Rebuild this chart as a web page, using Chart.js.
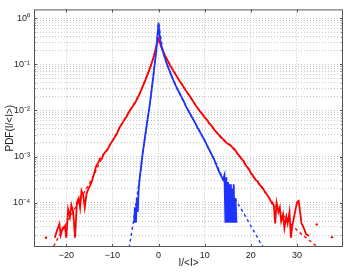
<!DOCTYPE html>
<html><head><meta charset="utf-8">
<script src="https://cdn.jsdelivr.net/npm/chart.js@4"></script>
<style>html,body{margin:0;padding:0;background:#fff;}#wrap{width:347px;height:273px;}</style>
</head><body><div id="wrap"><canvas id="c" width="347" height="273"></canvas></div>
<script>
// ---- data ----
const redX = [-22.5,-22.0,-21.5,-21.2,-20.8,-20.3,-20.0,-19.6,-19.2,-18.9,-18.5,-18.1,-17.7,-17.3,-17.0,-16.7,-16.3,-16.0,-15.6,-15.2,-14.9,-14.5,-14.0,-13.5,-13.0,-12.7,-12.3,-12.0,-11.5,-11.0,-10.5,-10.0,-9.5,-9.0,-8.5,-8.0,-7.5,-7.0,-6.5,-6.0,-5.5,-5.0,-4.5,-4.0,-3.5,-3.0,-2.5,-2.0,-1.5,-1.0,-0.5,-0.2,0,0.2,0.5,1.0,1.5,2.0,2.5,3.0,3.5,4.0,4.5,5.0,5.5,6.0,6.5,7.0,7.5,8.0,8.5,9.0,9.5,10,10.5,11,11.5,12,12.5,13,13.5,14,14.5,15,15.5,16,16.5,17,17.5,18,18.5,19,19.5,20,20.5,21,21.5,22,22.5,23,23.5,24,24.5,25.0,25.3,25.6,26.0,26.3,26.6,27.0,27.3,27.7,28.0,28.4,28.7,29.0,29.4,29.8,30.1,30.4,30.7,31.0,31.3,31.7,32.0,32.6];
const redY = [1.74e-5,2.51e-5,3.47e-5,2.0e-5,2.82e-5,3.16e-5,1.74e-5,7.24e-5,5.01e-5,8.91e-5,6.31e-5,1.74e-5,1.0e-4,1.26e-4,7.94e-5,1.82e-4,1.41e-4,7.94e-5,1.58e-4,2.0e-4,2.29e-4,2.82e-4,4.17e-4,6.31e-4,7.59e-4,9.12e-4,8.91e-4,1.12e-3,1.26e-3,1.445e-3,1.82e-3,2.19e-3,2.63e-3,3.16e-3,4.17e-3,5.01e-3,6.03e-3,7.24e-3,8.91e-3,1.07e-2,1.26e-2,1.51e-2,1.9e-2,2.4e-2,3.16e-2,4.17e-2,5.62e-2,7.59e-2,0.105,0.151,0.24,0.316,0.355,0.316,0.251,0.19,0.148,0.12,9.55e-2,7.94e-2,6.46e-2,5.37e-2,4.47e-2,3.8e-2,3.16e-2,2.63e-2,2.24e-2,1.9e-2,1.58e-2,1.32e-2,1.12e-2,9.55e-3,8.32e-3,7.08e-3,6.31e-3,5.25e-3,4.68e-3,3.98e-3,3.39e-3,3.02e-3,2.63e-3,2.4e-3,2.09e-3,1.9e-3,1.8e-3,1.58e-3,1.45e-3,1.2e-3,1.05e-3,8.91e-4,7.9e-4,6.31e-4,5.6e-4,4.47e-4,3.8e-4,3.16e-4,2.9e-4,2.4e-4,2.15e-4,1.78e-4,1.51e-4,1.26e-4,1.0e-4,8.91e-5,3.55e-5,1.0e-4,6.31e-5,7.94e-5,3.98e-5,5.62e-5,2.82e-5,5.01e-5,3.55e-5,6.31e-5,1.74e-5,3.16e-5,5.01e-5,7.94e-5,1.05e-4,1.1e-4,6.31e-5,3.55e-5,3.16e-5,2.51e-5,2.09e-5,1.9e-5];
const redDotX = [-24.4, 34.3, 37.6];
const redDotY = [1.74e-5, 3.4e-5, 1.8e-5];

const blueX = [-5.3,-5.1,-4.9,-4.7,-4.5,-4.3,-4.0,-3.5,-3.0,-2.5,-2.0,-1.5,-1.0,-0.5,-0.2,0,0.2,0.5,1.0,1.5,2.0,2.5,3.0,3.5,4.0,4.5,5.0,5.5,6.0,6.5,7.0,7.5,8.0,8.5,9.0,9.5,10,10.5,11,11.5,12,12.5,13,13.5,14.0,14.3,14.5,14.7,14.9,15.1,15.3,15.5,15.7,15.9,16.1,16.3,16.5,16.7,16.9];
const blueY = [3.7e-5,7.94e-5,3.7e-5,1.26e-4,6.31e-5,2.0e-4,3.98e-4,1.05e-3,2.4e-3,5.25e-3,1.12e-2,2.75e-2,7.08e-2,0.19,0.447,0.794,0.447,0.282,0.182,0.126,9.12e-2,6.76e-2,5.01e-2,3.89e-2,3.02e-2,2.45e-2,1.95e-2,1.55e-2,1.2e-2,9.77e-3,7.94e-3,6.46e-3,5.25e-3,4.17e-3,3.39e-3,2.75e-3,2.24e-3,1.78e-3,1.41e-3,1.12e-3,8.91e-4,6.76e-4,5.01e-4,3.98e-4,3.16e-4,3.98e-4,3.7e-5,3.55e-4,3.7e-5,2.82e-4,3.7e-5,2.51e-4,3.7e-5,2.0e-4,3.7e-5,2.51e-4,3.7e-5,1.26e-4,3.7e-5];

const blueFitX = [-6.6,-6.0,-5.5,-5.0,-4.5,-4.0,-3.0,-2.0,-1.0,0,1,2,4,6,8,10,12,14,15,16,17,18,19,20,21,22,23.3];
const blueFitY = [7.94e-6,1.78e-5,3.55e-5,7.94e-5,1.78e-4,3.98e-4,2.4e-3,1.12e-2,7.08e-2,0.794,0.182,9.12e-2,3.02e-2,1.2e-2,5.25e-3,2.24e-3,8.91e-4,3.31e-4,2.24e-4,1.51e-4,1.05e-4,7.08e-5,4.79e-5,3.16e-5,2.14e-5,1.41e-5,8.91e-6];

const redFitX = [-23.4,-22.5,-22,-21,-20,-19,-18,-17,-16,-15,-14,-13,-12,-10,-8,-6,-4,-2,-1,0,1,2,4,6,8,10,12,14,16,18,20,22,24,25,26,27,28,29,30,31,32,33,34,35.4];
const redFitY = [8.91e-6,1.26e-5,1.58e-5,2.4e-5,3.55e-5,5.25e-5,7.94e-5,1.17e-4,1.74e-4,2.63e-4,3.98e-4,6.61e-4,1.05e-3,2.19e-3,5.01e-3,1.07e-2,2.4e-2,7.59e-2,0.151,0.355,0.19,0.12,5.37e-2,2.63e-2,1.32e-2,7.08e-3,3.98e-3,2.4e-3,1.58e-3,8.91e-4,4.47e-4,2.4e-4,1.26e-4,9.33e-5,7.08e-5,5.37e-5,4.17e-5,3.24e-5,2.57e-5,2.09e-5,1.74e-5,1.45e-5,1.2e-5,9.33e-6];

const xTicks = [-20, -10, 0, 10, 20, 30];
const yDecades = [1e-5, 1e-4, 1e-3, 1e-2, 1e-1, 1];
const yDecadeLabels = ['10\u207B\u2075','10\u207B\u2074','10\u207B\u00B3','10\u207B\u00B2','10\u207B\u00B9','10\u2070'];
const yMinorMult = [2,3,4,5,6,7,8,9];
const xTitle = 'I/<I>';
const yTitle = 'PDF(I/<I>)';

// ---- chart ----
const RED = 'rgb(255,0,0)', BLUE = 'rgb(30,50,255)';
const pts = (xs, ys) => xs.map((x, i) => ({x: x, y: ys[i]}));
const FONT = '"Liberation Sans", Arial, Helvetica, sans-serif';
const X_MIN = -27, X_MAX = 40, Y_MIN = 1.1e-5, Y_MAX = 1.55;

const yTickVals = [];
yDecades.forEach(d => { yTickVals.push(d); yMinorMult.forEach(m => yTickVals.push(d * m)); });

const framePlugin = {
  id: 'frame',
  afterDraw(chart) {
    const {ctx, chartArea: a, scales} = chart;
    ctx.save();
    ctx.strokeStyle = '#555';
    ctx.lineWidth = 1;
    ctx.strokeRect(a.left + 0.5, a.top + 0.5, a.right - a.left - 1, a.bottom - a.top - 1);
    ctx.beginPath();
    xTicks.forEach(v => {
      const px = Math.round(scales.x.getPixelForValue(v)) + 0.5;
      ctx.moveTo(px, a.bottom); ctx.lineTo(px, a.bottom - 3);
      ctx.moveTo(px, a.top); ctx.lineTo(px, a.top + 3);
    });
    yTickVals.forEach(v => {
      if (v < Y_MIN || v > Y_MAX) return;
      const len = yDecades.includes(v) ? 3 : 1.6;
      const py = Math.round(scales.y.getPixelForValue(v)) + 0.5;
      ctx.moveTo(a.left, py); ctx.lineTo(a.left + len, py);
      ctx.moveTo(a.right, py); ctx.lineTo(a.right - len, py);
    });
    ctx.stroke();
    ctx.restore();
  }
};

new Chart(document.getElementById('c'), {
  type: 'line',
  data: {
    datasets: [
      {data: pts(blueX, blueY), borderColor: BLUE, borderWidth: 1.8, pointRadius: 0, tension: 0},
      {data: pts(redX, redY), borderColor: RED, borderWidth: 1.8, pointRadius: 0, tension: 0},
      {data: pts(blueFitX, blueFitY), borderColor: BLUE, borderWidth: 1.4, borderDash: [3, 3], pointRadius: 0, tension: 0},
      {data: pts(redFitX, redFitY), borderColor: RED, borderWidth: 1.4, borderDash: [3, 3], pointRadius: 0, tension: 0},
      {data: pts(redDotX, redDotY), showLine: false, pointRadius: 1.2, pointBackgroundColor: RED, pointBorderWidth: 0, borderColor: RED}
    ]
  },
  options: {
    responsive: false,
    animation: false,
    devicePixelRatio: 1,
    layout: {padding: {top: 3, right: 3, left: 0, bottom: 0}},
    plugins: {legend: {display: false}, tooltip: {enabled: false}},
    scales: {
      x: {
        type: 'linear', min: X_MIN, max: X_MAX,
        afterBuildTicks: s => { s.ticks = xTicks.map(v => ({value: v})); },
        afterFit: s => { s.height = 26; },
        grid: {color: '#c6c6c6', lineWidth: 1, drawTicks: false},
        border: {display: false, dash: [1, 2]},
        ticks: {padding: 3, color: '#222', font: {family: FONT, size: 9}, maxRotation: 0,
          callback: v => String(v).replace('-', '\u2212')},
        title: {display: true, text: xTitle, color: '#222', font: {family: FONT, size: 10}, padding: {top: 0, bottom: 4}}
      },
      y: {
        type: 'logarithmic', min: Y_MIN, max: Y_MAX,
        afterBuildTicks: s => { s.ticks = yTickVals.filter(v => v >= Y_MIN && v <= Y_MAX).map(v => ({value: v})); },
        afterFit: s => { s.width = 34; },
        grid: {color: '#c6c6c6', lineWidth: 1, drawTicks: false},
        border: {display: false, dash: [1, 2]},
        ticks: {padding: 4, color: '#222', font: {family: FONT, size: 9}, autoSkip: false,
          callback: v => { const i = yDecades.indexOf(v); return i >= 0 ? yDecadeLabels[i] : ''; }},
        title: {display: true, text: yTitle, color: '#222', font: {family: FONT, size: 10}, padding: {top: 4, bottom: 0}}
      }
    }
  },
  plugins: [framePlugin]
});
</script></body></html>
